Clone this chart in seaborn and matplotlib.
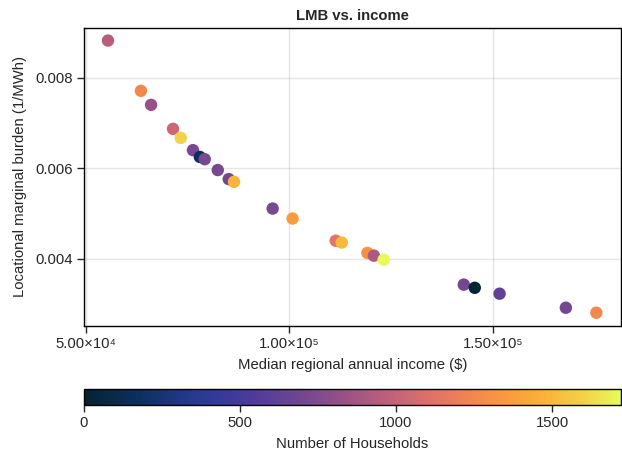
import numpy as np
import pandas as pd
import seaborn as sns
import matplotlib.pyplot as plt
from matplotlib.colors import LinearSegmentedColormap, Normalize
from matplotlib.cm import ScalarMappable
from matplotlib.ticker import FuncFormatter

# values
income = [55400, 63500, 66000, 71400, 73300, 76300, 78000, 79200, 82400, 85100,
          86400, 95900, 100800, 111400, 112900, 119200, 120800, 123200, 142900,
          145600, 151700, 168000, 175500]
lmb = [0.00882, 0.00771, 0.00740, 0.00687, 0.00667, 0.00640, 0.00625, 0.00620,
       0.00596, 0.00576, 0.00570, 0.00511, 0.00489, 0.00440, 0.00436, 0.00413,
       0.00407, 0.00398, 0.00343, 0.00336, 0.00323, 0.00292, 0.00281]
households = [950, 1255, 830, 1030, 1600, 720, 170, 720, 720, 700,
              1480, 720, 1360, 1130, 1510, 1300, 910, 1710, 710,
              20, 620, 700, 1250]
hh_max = 1720

# approximation of the cmocean "thermal" map
thermal = LinearSegmentedColormap.from_list('thermal', [
    (0.00, '#042333'), (0.10, '#0d2f5f'), (0.20, '#253a8e'),
    (0.27, '#3b3a9c'), (0.33, '#553d99'), (0.42, '#784891'),
    (0.50, '#a05485'), (0.58, '#c46379'), (0.65, '#e07367'),
    (0.72, '#f2854f'), (0.80, '#fb9d3c'), (0.87, '#fbb63a'),
    (0.93, '#f2d048'), (1.00, '#e8fa5b')])

df = pd.DataFrame({'income': income, 'lmb': lmb, 'households': households})

sns.set_style('white')
plt.rcParams['font.family'] = ['Liberation Sans', 'DejaVu Sans']
plt.rcParams['font.size'] = 10.5

fig = plt.figure(figsize=(6.22, 4.57), dpi=100)
ax = fig.add_axes([0.135, 0.287, 0.863, 0.652])
norm = Normalize(0, hh_max)
sns.scatterplot(data=df, x='income', y='lmb', hue='households', palette=thermal,
                hue_norm=norm, s=80, linewidth=0, legend=False, ax=ax, zorder=3)

ax.set_xlim(49500, 181500)
ax.set_ylim(0.00252, 0.0091)
ax.set_xticks([50000, 100000, 150000])
ax.set_yticks([0.004, 0.006, 0.008])

sup = str.maketrans('0123456789', '⁰¹²³⁴⁵⁶⁷⁸⁹')


def sci_formatter(x, pos):
    e = int(np.floor(np.log10(x)))
    return f'{x / 10**e:.2f}×10' + str(e).translate(sup)


ax.xaxis.set_major_formatter(FuncFormatter(sci_formatter))
ax.yaxis.set_major_formatter(FuncFormatter(lambda v, p: f'{v:.3f}'))
ax.grid(True, color='black', alpha=0.1, linewidth=1)
for s in ax.spines.values():
    s.set_color('black')
    s.set_linewidth(1)
ax.tick_params(axis='both', which='major', direction='out', length=5, width=1,
               left=True, bottom=True, labelsize=10.7, pad=3)

ax.set_title('LMB vs. income', fontweight='bold', fontsize=10.7, pad=6)
ax.set_xlabel('Median regional annual income ($)', fontsize=10.7, labelpad=5)
ax.set_ylabel('Locational marginal burden (1/MWh)', fontsize=10.7, labelpad=6)

cax = fig.add_axes([0.135, 0.114, 0.863, 0.035])
cb = fig.colorbar(ScalarMappable(norm=norm, cmap=thermal), cax=cax,
                  orientation='horizontal')
cb.set_ticks([0, 500, 1000, 1500])
cb.outline.set_color('black')
cb.outline.set_linewidth(1)
cax.tick_params(direction='out', length=5, width=1, labelsize=10.7, pad=3)
cb.set_label('Number of Households', fontsize=10.7, labelpad=5)

fig.savefig('out.png', dpi=100)
